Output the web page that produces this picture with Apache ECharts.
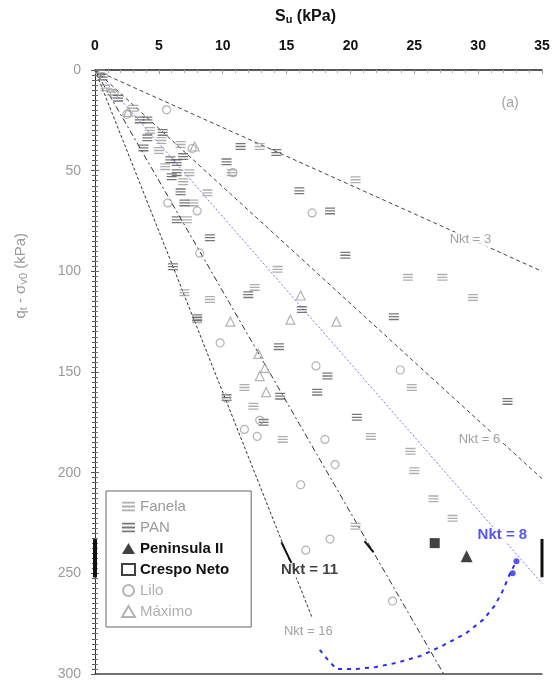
<!DOCTYPE html>
<html><head><meta charset="utf-8">
<script src="https://cdn.jsdelivr.net/npm/echarts@6/dist/echarts.min.js"></script>
<style>html,body{margin:0;padding:0;background:#fff}#c{width:556px;height:681px}</style>
</head><body><div id="c"></div>
<script>
// ---- data ----
const xTicks = [0, 5, 10, 15, 20, 25, 30, 35];
const yTicks = [0, 50, 100, 150, 200, 250, 300];
const nkt3 = [[0, 0], [35, 100]];
const nkt6 = [[0, 0], [35, 203]];
const nkt8 = [[0, 0], [35, 255]];
const nkt11 = [[0, 0], [27.3, 300]];
const nkt16 = [[0, 0], [17, 272]];
const blueCurve = [[17.6, 288], [18.1, 292], [18.9, 297.5], [20.5, 297.5], [22, 296.5], [23.6, 294.5], [25.5, 291], [27.2, 286], [29, 280], [30.4, 273], [31.3, 266], [31.9, 259], [32.5, 250], [33, 244]];
const blueDots = [[33, 244], [32.7, 250]];
const bandLeft = [[0, 233], [0, 252]];
const bandRight = [[35, 233], [35, 252]];
const segA = [[14.6, 234.6], [15.7, 249]];
const segB = [[21.1, 234], [21.8, 239.5]];
const fanela = [[0.4,1.5],[0.8,9],[1.3,11],[3.0,19],[4.3,30],[5.2,35],[6.7,37],[10.7,51],[12.9,38],[7.7,66],[7.0,110.6],[12.5,108],[14.3,99],[9.0,114],[8.0,124],[11.7,157.7],[12.4,167],[14.7,183.5],[24.5,103],[27.2,103],[29.6,113],[20.4,54.5],[7.2,74.4],[8.8,61],[6.9,55.5],[7.4,51],[25,199],[26.5,213],[28,222.7],[20.4,226.6],[24.8,157.7],[21.6,182],[24.7,189.4],[5.0,40],[5.5,48]];
const pan = [[0.6,3.5],[1.8,14],[3.5,24.8],[4.1,24.8],[4.1,33.7],[3.8,38.7],[5.9,44.6],[6.9,43],[6.4,46],[11.4,38],[14.2,41],[10.3,45.6],[6.4,51],[6.7,60.5],[7.0,66],[6.4,74.4],[9.0,83.3],[6.1,97.7],[8,123],[16,60],[18.4,70],[19.6,92],[16.2,119],[23.4,122.5],[14.4,137.4],[10.3,162.7],[14.5,162],[13.2,175],[18.2,152],[17.4,160],[20.5,172.5],[32.3,164.6],[12,111.6],[5.3,31],[6.0,53]];
const peninsula = [[29.1, 241.5]];
const crespo = [[26.6, 235]];
const lilo = [[1.5,12],[2.5,22],[5.6,19.8],[10.8,51],[17,71],[8,70],[8.2,91],[9.8,135.5],[5.7,66],[12.9,174],[11.7,178.5],[10.3,163],[18,183.5],[16.1,206],[18.8,196],[23.3,263.8],[18.4,233],[16.5,238.5],[23.9,149],[17.3,147],[12.7,182],[7.6,39]];
const maximo = [[2.6,20.8],[7.8,38],[16.1,112],[15.3,124],[18.9,125],[10.6,125],[12.8,141],[13.3,148],[12.9,152],[13.4,160]];
const lineLabels = [
  {name: 'Nkt = 3', value: [29.4, 84.3], kind: 'g'},
  {name: 'Nkt = 6', value: [30.1, 183.5], kind: 'g'},
  {name: 'Nkt = 8', value: [31.9, 231], kind: 'b'},
  {name: 'Nkt = 11', value: [16.8, 248.5], kind: 'k'},
  {name: 'Nkt = 16', value: [16.7, 279], kind: 'g'},
  {name: '(a)', value: [32.5, 16.4], kind: 'a'}
];

const FONT = '"Liberation Sans", Arial, sans-serif';
const eqSym = 'path://M0,0H10V1.4H0Z M0,3H10V4.4H0Z M0,6H10V7.4H0Z';
const chart = echarts.init(document.getElementById('c'), null, {renderer: 'canvas'});

function ln(name, data, color, type, width) {
  return {name, type: 'line', data, symbol: 'none', silent: true, z: 1,
    lineStyle: {color, type, width: width || 1}};
}
const labelStyles = {
  g: {color: '#8a8a8a', fontSize: 13, backgroundColor: '#fff', padding: [1, 2]},
  b: {color: '#2a2af0', fontSize: 15, fontWeight: 'bold', backgroundColor: '#fff', padding: [0, 2]},
  k: {color: '#111', fontSize: 15, fontWeight: 'bold', backgroundColor: '#fff', padding: [0, 2]},
  a: {color: '#8a8a8a', fontSize: 14}
};

chart.setOption({
  animation: false,
  textStyle: {fontFamily: FONT},
  grid: {left: 95, right: 14, top: 70, bottom: 6, containLabel: false},
  xAxis: [{
    type: 'value', position: 'top', min: 0, max: 35, interval: 5,
    name: '{b|S}{s|u}{b| (kPa)}', nameLocation: 'middle', nameGap: 45,
    nameTextStyle: {padding: [0, 26, 0, 0], rich: {
      b: {fontSize: 16, fontWeight: 'bold', color: '#111', fontFamily: FONT},
      s: {fontSize: 11, fontWeight: 'bold', color: '#111', fontFamily: FONT, verticalAlign: 'bottom', padding: [6, 0, 0, 0]}}},
    axisLine: {show: true, lineStyle: {color: '#222', width: 1.5}},
    axisTick: {show: true, inside: true, length: 4, lineStyle: {color: '#999'}},
    minorTick: {show: true, splitNumber: 5, length: 3, lineStyle: {color: '#aaa'}},
    axisLabel: {fontSize: 14, fontWeight: 'bold', color: '#111', margin: 17,
      formatter: v => xTicks.includes(v) ? String(v) : ''},
    splitLine: {show: false}
  }, {
    type: 'value', position: 'bottom', min: 0, max: 35,
    axisLine: {show: true, onZero: false, lineStyle: {color: '#444', width: 1.5}},
    axisTick: {show: false}, axisLabel: {show: false}, splitLine: {show: false}
  }],
  yAxis: [{
    type: 'value', inverse: true, min: 0, max: 300, interval: 50,
    axisLine: {show: true, lineStyle: {color: '#333', width: 1}},
    axisTick: {show: true, inside: true, length: 4, lineStyle: {color: '#666'}},
    minorTick: {show: true, splitNumber: 20, length: 3, lineStyle: {color: '#777'}},
    axisLabel: {fontSize: 14, color: '#9a9a9a', margin: 14,
      formatter: v => yTicks.includes(v) ? String(v) : ''},
    splitLine: {show: false}
  }, {
    type: 'value', inverse: true, min: 0, max: 300, interval: 50, position: 'right',
    axisLine: {show: true, lineStyle: {color: '#333', width: 1}},
    axisTick: {show: true, inside: true, length: 4, lineStyle: {color: '#555'}},
    minorTick: {show: true, splitNumber: 20, length: 3, lineStyle: {color: '#555'}},
    axisLabel: {show: false}, splitLine: {show: false}
  }],
  legend: {
    orient: 'vertical', left: 106, top: 491,
    padding: [8, 22, 8, 15], itemGap: 6, itemWidth: 13, itemHeight: 11,
    borderColor: '#666', borderWidth: 1, backgroundColor: '#fff',
    textStyle: {fontSize: 15, fontFamily: FONT},
    data: [
      {name: 'Fanela', textStyle: {color: '#9a9a9a'}},
      {name: 'PAN', textStyle: {color: '#9a9a9a'}},
      {name: 'Peninsula II', textStyle: {color: '#111', fontWeight: 'bold'}},
      {name: 'Crespo Neto', textStyle: {color: '#111', fontWeight: 'bold'},
        itemStyle: {color: '#fff', borderColor: '#111', borderWidth: 2}},
      {name: 'Lilo', textStyle: {color: '#b0b0b0'}},
      {name: 'Máximo', textStyle: {color: '#b0b0b0'}}
    ]
  },
  graphic: [{
    type: 'text', left: 13, top: 233, rotation: Math.PI / 2, z: 10,
    style: {text: '{a|q}{s|t}{a| - σ}{s|v0}{a| (kPa)}', fill: '#9a9a9a',
      rich: {a: {fontSize: 15, fill: '#9a9a9a', fontFamily: FONT}, s: {fontSize: 11, fill: '#9a9a9a', fontFamily: FONT, padding: [6, 0, 0, 0]}}}
  }],
  series: [
    ln('nkt3', nkt3, '#444', [4, 3]),
    ln('nkt6', nkt6, '#444', [4, 3]),
    ln('nkt8', nkt8, '#7777ee', [2, 2]),
    ln('nkt11', nkt11, '#333', [6, 3, 2, 3]),
    ln('nkt16', nkt16, '#333', [3, 2]),
    ln('blueCurve', blueCurve, '#2a2af0', [4, 5], 2),
    ln('bandLeft', bandLeft, '#111', 'solid', 4),
    ln('bandRight', bandRight, '#111', 'solid', 3),
    ln('segA', segA, '#111', 'solid', 2),
    ln('segB', segB, '#111', 'solid', 2),
    {name: 'blueDots', type: 'scatter', data: blueDots, symbol: 'circle', symbolSize: 6,
      itemStyle: {color: '#2a2af0'}, silent: true},
    {name: 'Fanela', type: 'scatter', data: fanela, symbol: eqSym, symbolSize: [10, 7],
      itemStyle: {color: '#9a9a9a'}},
    {name: 'PAN', type: 'scatter', data: pan, symbol: eqSym, symbolSize: [10, 7],
      itemStyle: {color: '#555'}},
    {name: 'Peninsula II', type: 'scatter', data: peninsula, symbol: 'triangle', symbolSize: 12,
      itemStyle: {color: '#111'}},
    {name: 'Crespo Neto', type: 'scatter', data: crespo, symbol: 'rect', symbolSize: 10,
      itemStyle: {color: '#111'}},
    {name: 'Lilo', type: 'scatter', data: lilo, symbol: 'circle', symbolSize: 8,
      itemStyle: {color: 'rgba(255,255,255,0)', borderColor: '#a0a0a0', borderWidth: 1.2}},
    {name: 'Máximo', type: 'scatter', data: maximo, symbol: 'triangle', symbolSize: 9,
      itemStyle: {color: 'rgba(255,255,255,0)', borderColor: '#a0a0a0', borderWidth: 1.2}},
    {name: 'labels', type: 'scatter', symbolSize: 0, silent: true, z: 5,
      data: lineLabels.map(d => ({name: d.name, value: d.value,
        label: Object.assign({show: true, position: 'inside', formatter: '{b}', fontFamily: FONT}, labelStyles[d.kind])}))}
  ]
});
</script></body></html>
